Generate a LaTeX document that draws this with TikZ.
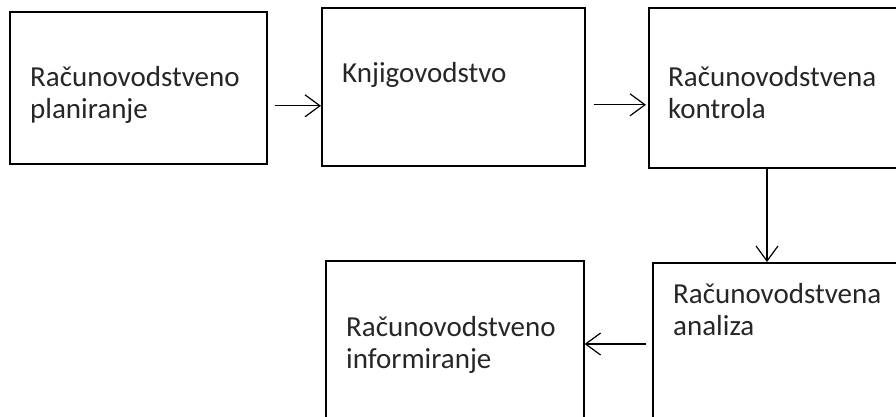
\documentclass[tikz,border=0pt]{standalone}
\usepackage{fontspec}
\setmainfont{Carlito}
\usetikzlibrary{arrows.meta}
\begin{document}
\begin{tikzpicture}[x=1pt,y=-1pt,
    box/.style={draw,line width=1.6pt,anchor=north west,inner sep=0pt},
    txt/.style={align=left,anchor=base west,inner sep=0pt,text=black!85,font=\fontsize{29}{31.5}\selectfont},
    arr/.style={line width=1.2pt,-{Straight Barb[length=15pt,width=22pt,line width=1.2pt]}}]
            \useasboundingbox (0,0) rectangle (896,417);
            \clip (0,0) rectangle (896,417);
            \begin{scope}[every node/.style={box}]
                \node[minimum width=257pt,minimum height=152pt] (plan) at (9,11) {};
                \node[minimum width=263pt,minimum height=158pt] (book) at (321,7) {};
                \node[minimum width=270pt,minimum height=160pt] (ctrl) at (648,7) {};
                \node[minimum width=270pt,minimum height=170pt] (anal) at (652,262) {};
                \node[minimum width=258pt,minimum height=172pt] (info) at (325,260) {};
            \end{scope}
            \node[txt] (plan-t) at (30,118) {Računovodstveno\\planiranje};
            \node[txt] (book-t) at (342,83) {Knjigovodstvo};
            \node[txt] (ctrl-t) at (668,118) {Računovodstvena\\kontrola};
            \node[txt] (anal-t) at (673,335) {Računovodstvena\\analiza};
            \node[txt] (info-t) at (346,368) {Računovodstveno\\informiranje};
            \draw[arr] ([xshift=7pt,yshift=-18pt]plan.east) -- ([yshift=-18pt]plan.east -| book.west);
            \draw[arr] ([xshift=8pt,yshift=-18pt]book.east) -- ([xshift=-2pt,yshift=-18pt]book.east -| ctrl.west);
            \draw[arr] ([xshift=119pt]ctrl.south west) -- ([xshift=119pt]ctrl.south west |- anal.north);
            \draw[arr] ([xshift=-6pt,yshift=-82pt]anal.north west) -- ([yshift=-82pt]anal.north west -| info.east);
        \end{tikzpicture}
\end{document}
